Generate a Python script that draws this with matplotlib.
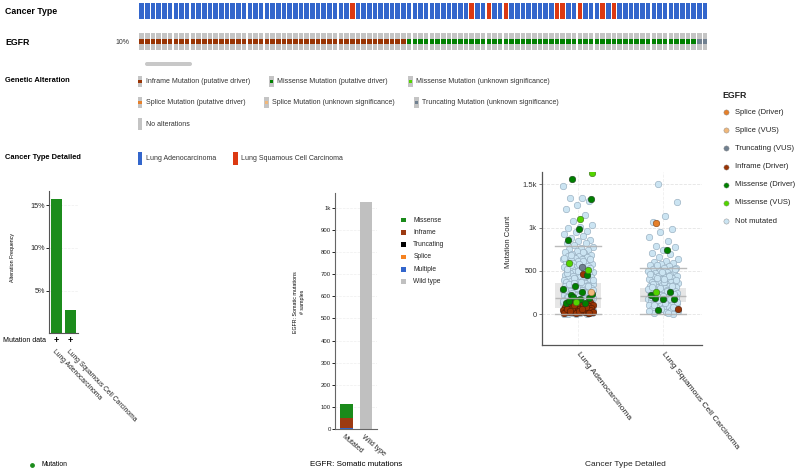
import matplotlib
matplotlib.use("Agg")
import matplotlib.pyplot as plt
from matplotlib.patches import Rectangle, FancyBboxPatch
from matplotlib.transforms import blended_transform_factory
import numpy as np

plt.rcParams['font.family'] = ['Liberation Sans', 'DejaVu Sans']

# ---------------- data ----------------
# oncoprint (100 altered samples shown)
n_samples = 100
lusc_columns = [37, 58, 61, 64, 73, 74, 77, 81, 83]
egfr_alt_types = ["inframe", "missense", "truncating"]
egfr_alt_counts = [47, 51, 2]

# alteration frequency by cancer type (%)
freq_types = ["Lung Adenocarcinoma", "Lung Squamous Cell Carcinoma"]
freq_values = [15.7, 2.7]

# EGFR somatic mutations (# samples)
somatic_cats = ["Mutated", "Wild type"]
mut_classes = ["Missense", "Inframe", "Truncating", "Splice", "Multiple"]
mut_counts = [64, 44, 0, 0, 6]
wild_type_count = 1027

# mutation count per sample, by EGFR status
luad_not_mutated = [1481, 1346, 1338, 1308, 1258, 1212, 1142, 1081, 1031, 1008, 993, 962,
                    944, 927, 903, 884, 861, 842, 826, 819, 797, 781, 768, 751, 742, 729,
                    716, 704, 698, 687, 676, 668, 659, 651, 643, 636, 628, 619, 611, 603,
                    597, 589, 584, 572, 563, 559, 548, 541, 533, 526, 522, 514, 507, 498,
                    493, 486, 479, 471, 468, 459, 452, 447, 438, 433, 427, 419, 414, 407,
                    401, 396, 389, 383, 377, 371, 366, 361, 354, 349, 343, 338, 331, 326,
                    321, 316, 309, 304, 299, 293, 289, 284, 278, 272, 268, 263, 257, 252,
                    247, 243, 238, 233, 228, 224, 219, 214, 209, 205, 201, 196, 192, 187,
                    183, 178, 174, 169, 165, 161, 156, 152, 148, 144, 139, 135, 131, 127,
                    123, 118, 114, 110, 106, 102, 98, 94, 90, 86, 82, 78, 74, 71, 67, 63,
                    59, 55, 52, 48, 44, 41, 37, 33, 30, 26, 23, 19, 16, 12, 9, 6, 3,
                    655, 612, 574, 538, 502, 476, 443, 417, 392, 368, 345, 322, 301, 281,
                    262, 246, 229, 213, 198, 181, 167, 154, 141, 128, 116, 104, 92, 80,
                    69, 57, 46, 35, 24, 14, 5, 721, 688, 633, 581, 527, 455, 358, 276]
lusc_not_mutated = [1504, 1300, 1135, 1062, 981, 954, 896, 846, 788, 773, 742, 712, 691,
                    658, 637, 618, 603, 589, 576, 564, 553, 546, 538, 529, 521, 513, 504,
                    497, 489, 482, 474, 467, 461, 453, 446, 439, 433, 426, 419, 412, 406,
                    399, 393, 386, 381, 374, 368, 362, 356, 351, 344, 339, 333, 327, 322,
                    316, 311, 305, 299, 294, 289, 283, 278, 273, 267, 262, 257, 252, 246,
                    241, 236, 231, 226, 221, 216, 211, 206, 201, 196, 191, 186, 181, 176,
                    171, 166, 161, 156, 151, 146, 141, 135, 129, 123, 117, 110, 103, 96,
                    88, 80, 72, 63, 54, 45, 36, 27, 18, 9,
                    492, 463, 437, 414, 391, 371, 349, 328, 307, 288, 269, 251, 233, 215,
                    198, 179, 162, 144, 126, 107, 85, 61, 38, 14, 571, 524, 402, 318]
luad_inframe = [462, 158, 146, 137, 129, 121, 115, 108, 102, 97, 91, 86, 82, 77, 73, 69,
                65, 61, 57, 54, 50, 47, 44, 41, 38, 35, 32, 29, 27, 24, 21, 18, 15, 12,
                96, 71, 48, 33, 58, 84, 112, 26, 63, 39, 19]
luad_missense_drv = [1558, 1327, 981, 858, 454, 327, 288, 262, 223, 185, 165, 135, 127,
                     204, 240, 176, 150]
luad_missense_vus = [1627, 1096, 596, 512, 146]
luad_truncating = [550]
luad_splice_vus = [262]
lusc_splice_drv = [1058]
lusc_missense_drv = [742, 185, 173, 180, 223, 262, 50]
lusc_missense_vus = [262]
lusc_inframe = [62]

# box plot summaries (whislo, q1, median, q3, whishi)
box_lo = [0, 0]
box_q1 = [77, 146]
box_med = [185, 212]
box_q3 = [358, 300]
box_hi = [788, 538]

# ---------------- colours ----------------
BLUE, RED, GRAY = "#3366cc", "#dc3912", "#c4c4c4"
INFRAME, MISSENSE, MISS_VUS = "#993404", "#008000", "#53d400"
TRUNC, SPLICE, SPLICE_VUS = "#708090", "#e5802b", "#f0b87b"
NOT_MUT = "#cbe4f2"
alt_colors = {"inframe": INFRAME, "missense": MISSENSE, "truncating": TRUNC}

W, H = 800, 474
fig = plt.figure(figsize=(8, 4.74), dpi=100)


def rect(l, t, r, b):
    return [l / W, 1 - b / H, (r - l) / W, (b - t) / H]


# overlay in pixel units for labels and legends
ov = fig.add_axes([0, 0, 1, 1])
ov.set_xlim(0, W)
ov.set_ylim(H, 0)
ov.axis('off')

# ---------------- oncoprint ----------------
onc = fig.add_axes(rect(138.85, 0, 707.85, 55))
onc.set_xlim(-0.5, n_samples - 0.5)
onc.set_ylim(55, 0)
onc.axis('off')
idx = np.arange(n_samples)
ct_colors = [RED if i in lusc_columns else BLUE for i in idx]
onc.bar(idx, 16, bottom=3.3, width=0.8, color=ct_colors, linewidth=0)
onc.bar(idx, 16.7, bottom=33.3, width=0.8, color=GRAY, linewidth=0)
alts = np.repeat(egfr_alt_types, egfr_alt_counts)
onc.bar(idx, 5, bottom=39.3, width=0.8, color=[alt_colors[a] for a in alts], linewidth=0)

ov.text(5, 11, "Cancer Type", fontsize=6.3, weight='bold', va='center')
ov.text(5, 42, "EGFR", fontsize=6.3, weight='bold', va='center')
ov.text(115, 42, "10%", fontsize=5, va='center', color='#333333')
ov.add_patch(FancyBboxPatch((145, 62), 47, 4, boxstyle="round,pad=0,rounding_size=2",
                            color="#c8c8c8", linewidth=0))

ov.text(5, 80, "Genetic Alteration", fontsize=5.4, weight='bold', va='center')
ov.text(5, 157.5, "Cancer Type Detailed", fontsize=5.4, weight='bold', va='center')

alt_legend = [("Inframe Mutation (putative driver)", INFRAME, 140, 81.7),
              ("Missense Mutation (putative driver)", MISSENSE, 271.7, 81.7),
              ("Missense Mutation (unknown significance)", MISS_VUS, 410.7, 81.7),
              ("Splice Mutation (putative driver)", SPLICE, 140, 102.7),
              ("Splice Mutation (unknown significance)", SPLICE_VUS, 266.7, 102.7),
              ("Truncating Mutation (unknown significance)", TRUNC, 416.7, 102.7),
              ("No alterations", None, 140, 124)]
for label, c, x, y in alt_legend:
    ov.add_patch(Rectangle((x - 2.3, y - 5.6), 4.6, 11.3, color=GRAY, linewidth=0))
    if c is not None:
        ov.add_patch(Rectangle((x - 1.6, y - 1.6), 3.2, 3.2, color=c, linewidth=0))
    ov.text(x + 5.7, y, label, fontsize=5, va='center', color='#333333')

for label, c, x in [("Lung Adenocarcinoma", BLUE, 140), ("Lung Squamous Cell Carcinoma", RED, 235.7)]:
    ov.add_patch(Rectangle((x - 2.3, 151.7), 4.6, 13.3, color=c, linewidth=0))
    ov.text(x + 5.7, 158.3, label, fontsize=5, va='center', color='#333333')

# ---------------- alteration frequency ----------------
a1 = fig.add_axes(rect(49.3, 190.7, 78.3, 333.3))
a1.bar(range(len(freq_values)), freq_values, width=0.79, color="#1c8c1c", zorder=2)
a1.set_xlim(-0.49, 1.58)
a1.set_ylim(0, 16.7)
a1.set_yticks([5, 10, 15])
a1.set_yticklabels(["5%", "10%", "15%"], fontsize=5.2, color='#222222')
a1.set_xticks([])
a1.tick_params(axis='y', length=2, width=0.6, pad=1)
a1.grid(axis='y', linestyle='--', color='#eeeeee', linewidth=0.5)
for s in ['top', 'right']:
    a1.spines[s].set_visible(False)
for s in ['left', 'bottom']:
    a1.spines[s].set_color('#555555')
    a1.spines[s].set_linewidth(0.8)
t1 = blended_transform_factory(a1.transData, ov.transData)
ov.text(3, 341, "Mutation data", fontsize=5, va='center')
for i, name in enumerate(freq_types):
    ov.text(i, 341, "+", transform=t1, fontsize=6.5, weight='bold', ha='center', va='center')
    ov.text(i - 0.18, 351, name, transform=t1, fontsize=4.9, rotation=-46,
            rotation_mode='anchor', ha='left', va='center', color='#222222')
ov.text(13, 257, "Alteration Frequency", rotation=90, fontsize=3.8, ha='center', va='center')
ov.scatter([31.7], [465], s=6, color="#1c8c1c")
ov.text(41.7, 465, "Mutation", fontsize=4.9, va='center')

# ---------------- somatic mutations ----------------
mut_colors = {"Missense": "#1a8a1a", "Inframe": "#9c3a12", "Truncating": "#000000",
              "Splice": "#f58220", "Multiple": "#3366cc"}
a2 = fig.add_axes(rect(335, 193.3, 376.7, 429.3))
bottom = 0
for cls, cnt in zip(reversed(mut_classes), reversed(mut_counts)):
    a2.bar(0, cnt, bottom=bottom, width=0.64, color=mut_colors[cls], zorder=2)
    bottom += cnt
a2.bar(1, wild_type_count, width=0.64, color="#c0c0c0", zorder=2)
a2.set_xlim(-0.57, 1.54)
a2.set_ylim(0, 1064.5)
yt = list(range(0, 1001, 100))
a2.set_yticks(yt)
a2.set_yticklabels([str(v) if v < 1000 else "1k" for v in yt], fontsize=4.3, color='#222222')
a2.set_xticks([])
a2.tick_params(axis='y', length=2, width=0.6, pad=1)
a2.grid(axis='y', linestyle='--', color='#eeeeee', linewidth=0.5)
for s in ['top', 'right']:
    a2.spines[s].set_visible(False)
for s in ['left', 'bottom']:
    a2.spines[s].set_color('#666666')
    a2.spines[s].set_linewidth(0.8)
t2 = blended_transform_factory(a2.transData, ov.transData)
for i, name in enumerate(somatic_cats):
    ov.text(i - 0.2, 436, name, transform=t2, fontsize=5, rotation=-40,
            rotation_mode='anchor', ha='left', va='center', color='#222222')
ov.text(299, 301.7, "EGFR: Somatic mutations\n# samples", rotation=90, fontsize=3.8,
        ha='center', va='center', multialignment='center', linespacing=1.3)
ov.text(356, 464.3, "EGFR: Somatic mutations", fontsize=5.8, ha='center', va='center')
leg2 = mut_classes + ["Wild type"]
leg2_colors = [mut_colors[c] for c in mut_classes] + ["#c0c0c0"]
for k, (name, c) in enumerate(zip(leg2, leg2_colors)):
    y = 220 + 12.3 * k
    ov.add_patch(Rectangle((401, y - 2.3), 4.6, 4.6, color=c, linewidth=0))
    ov.text(413.3, y, name, fontsize=4.8, va='center', color='#222222')

# ---------------- mutation count strip plot ----------------
a3 = fig.add_axes(rect(541.7, 171.7, 702, 345))
a3.set_xlim(-0.43, 1.46)
a3.set_ylim(-354, 1645)
stats = [dict(whislo=box_lo[i], q1=box_q1[i], med=box_med[i], q3=box_q3[i],
              whishi=box_hi[i], fliers=[]) for i in range(2)]
bp = a3.bxp(stats, positions=[0, 1], widths=0.55, capwidths=0.55, patch_artist=True,
            showfliers=False, manage_ticks=False,
            boxprops=dict(facecolor='#e6e6e6', edgecolor='none'),
            medianprops=dict(color='#b0b0b0', linewidth=1.0),
            whiskerprops=dict(color='#c8c8c8', linewidth=0.6),
            capprops=dict(color='#b0b0b0', linewidth=1.0), zorder=1)
for ln in bp['caps'] + bp['medians']:
    ln.set_zorder(6)
    ln.set_alpha(0.85)


def jitter(n, start, center):
    k = np.arange(start, start + n)
    return center + ((k * 0.6180339887) % 1 - 0.5) * 0.36


groups = [
    (luad_not_mutated, 0, NOT_MUT, '#8fa6b8'),
    (lusc_not_mutated, 1, NOT_MUT, '#8fa6b8'),
    (luad_inframe, 0, INFRAME, '#4a1a05'),
    (lusc_inframe, 1, INFRAME, '#4a1a05'),
    (luad_missense_drv, 0, MISSENSE, '#1f3f1f'),
    (lusc_missense_drv, 1, MISSENSE, '#1f3f1f'),
    (luad_missense_vus, 0, MISS_VUS, '#3a6a20'),
    (lusc_missense_vus, 1, MISS_VUS, '#3a6a20'),
    (luad_truncating, 0, TRUNC, '#404850'),
    (luad_splice_vus, 0, SPLICE_VUS, '#a07040'),
    (lusc_splice_drv, 1, SPLICE, '#804010'),
]
for g, (vals, pos, c, ec) in enumerate(groups):
    x = jitter(len(vals), 7 * g, pos)
    a3.scatter(x, vals, s=22, color=c, edgecolors=ec, linewidths=0.4, zorder=3 + (g > 1))

a3.set_yticks([0, 500, 1000, 1500])
a3.set_yticklabels(["0", "500", "1k", "1.5k"], fontsize=5.5, color='#333333')
a3.set_xticks([0, 1])
a3.set_xticklabels(freq_types, fontsize=6, rotation=-52, rotation_mode='anchor',
                   ha='left', va='center', color='#222222')
a3.tick_params(axis='x', length=0, pad=6)
a3.tick_params(axis='y', length=2, width=0.6, pad=1.5, color='#666666')
a3.grid(axis='y', linestyle='--', color='#e4e4e4', linewidth=0.6, zorder=0)
a3.grid(axis='x', linestyle='--', color='#efefef', linewidth=0.6, zorder=0)
a3.set_axisbelow(True)
for s in ['top', 'right']:
    a3.spines[s].set_visible(False)
for s in ['left', 'bottom']:
    a3.spines[s].set_color('#555555')
    a3.spines[s].set_linewidth(0.9)
ov.text(509, 242, "Mutation Count", rotation=90, fontsize=5.5, ha='center', va='center',
        color='#222222')
ov.text(625, 464, "Cancer Type Detailed", fontsize=6, ha='center', va='center',
        color='#222222')

ov.text(722.7, 95, "EGFR", fontsize=6.3, weight='bold', va='center', color='#222222')
leg3 = [("Splice (Driver)", SPLICE), ("Splice (VUS)", SPLICE_VUS), ("Truncating (VUS)", TRUNC),
        ("Inframe (Driver)", INFRAME), ("Missense (Driver)", MISSENSE),
        ("Missense (VUS)", MISS_VUS), ("Not mutated", NOT_MUT)]
for k, (name, c) in enumerate(leg3):
    y = 112 + 18.2 * k
    ov.scatter([725.5], [y], s=14, color=c, edgecolors='#888888', linewidths=0.3)
    ov.text(735, y, name, fontsize=5.5, va='center', color='#222222')

fig.savefig("out.png", dpi=100)
